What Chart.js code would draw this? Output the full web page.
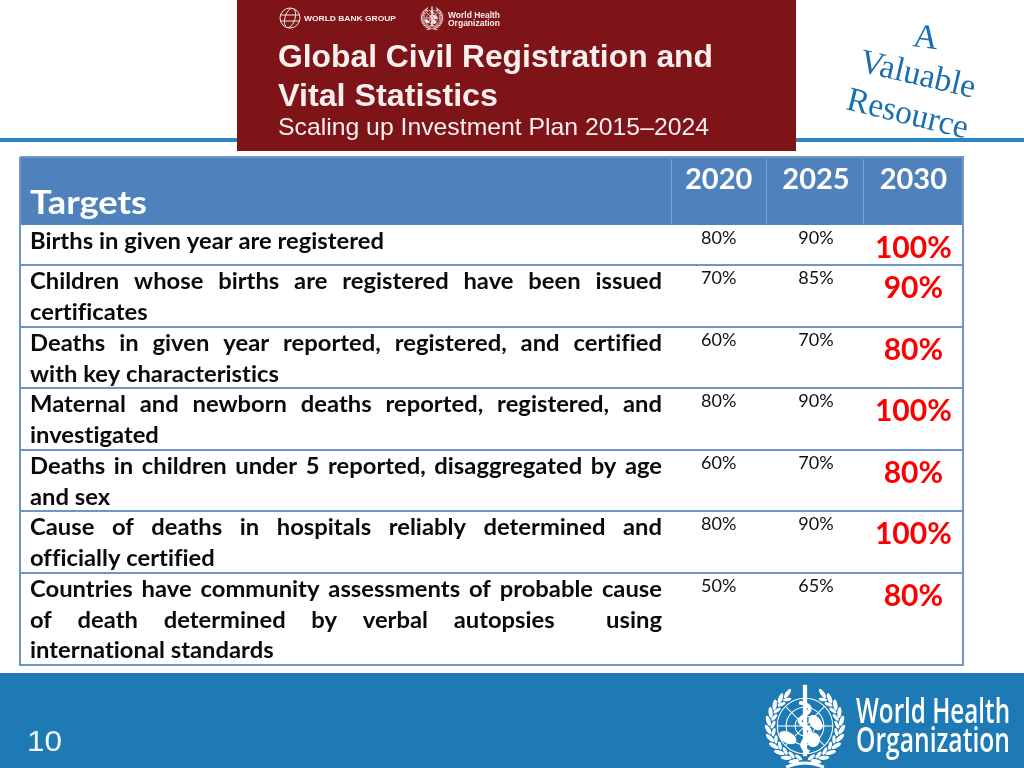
<!DOCTYPE html>
<html>
<head>
<meta charset="utf-8">
<title>Targets</title>
<script src="https://cdn.jsdelivr.net/npm/chart.js@4"></script>
<style>
  html, body { margin: 0; padding: 0; background: #fff; overflow: hidden; }
  canvas { display: block; }
</style>
</head>
<body>
<canvas id="targetsChart" width="1024" height="768"></canvas>
<script>
const years = ['2020', '2025', '2030'];
const target2020 = [80, 70, 60, 80, 60, 80, 50];
const target2025 = [90, 85, 70, 90, 70, 90, 65];
const target2030 = [100, 90, 80, 100, 80, 100, 80];

const rowLabels = [
    ['Births in given year are registered'],
    ['Children whose births are registered have been issued', 'certificates'],
    ['Deaths in given year reported, registered, and certified', 'with key characteristics'],
    ['Maternal and newborn deaths reported, registered, and', 'investigated'],
    ['Deaths in children under 5 reported, disaggregated by age', 'and sex'],
    ['Cause of deaths in hospitals reliably determined and', 'officially certified'],
    ['Countries have community assessments of probable cause', 'of death determined by verbal autopsies  using', 'international standards']
];

// table rows are not equal height, the y scale runs in table pixels
const rowHeights = [40, 62, 61, 62, 61, 62, 92];
const rowTops = rowHeights.map((_, i) => rowHeights.slice(0, i).reduce((a, b) => a + b, 0));

const BLUE = '#4f81bd';
const BAND = '#1e7ab5';
const TABLE_LEFT = 20;
const TABLE_RIGHT = 963;

function fitText(ctx, text, x, y, width) {
    const w = ctx.measureText(text).width;
    ctx.save();
    ctx.translate(x, y);
    ctx.scale(width / w, 1);
    ctx.textAlign = 'left';
    ctx.fillText(text, 0, 0);
    ctx.restore();
}

function drawLeaf(ctx, x, y, rx, ry, angle) {
    ctx.beginPath();
    ctx.ellipse(x, y, rx, ry, angle, 0, Math.PI * 2);
    ctx.fill();
}

// UN style emblem, globe with staff and wreath
function drawEmblem(ctx, cx, cy, r, color, withStaff) {
    ctx.save();
    ctx.strokeStyle = color;
    ctx.fillStyle = color;
    const globe = r * 0.66;
    ctx.lineWidth = Math.max(0.6, r / 40);
    [1, 0.68, 0.36].forEach(f => {
        ctx.beginPath();
        ctx.arc(cx, cy, globe * f, 0, Math.PI * 2);
        ctx.stroke();
    });
    for (let a = 0; a < 8; a++) {
        ctx.beginPath();
        ctx.moveTo(cx, cy);
        ctx.lineTo(cx + Math.cos(a * Math.PI / 4) * globe, cy + Math.sin(a * Math.PI / 4) * globe);
        ctx.stroke();
    }
    // land
    drawLeaf(ctx, cx - globe * 0.62, cy + globe * 0.42, globe * 0.34, globe * 0.2, 0.5);
    drawLeaf(ctx, cx + globe * 0.38, cy - globe * 0.12, globe * 0.32, globe * 0.2, 0.9);
    drawLeaf(ctx, cx + globe * 0.3, cy + globe * 0.5, globe * 0.24, globe * 0.26, 0.2);
    // wreath
    for (let side = -1; side <= 1; side += 2) {
        for (let i = 0; i < 11; i++) {
            const a = Math.PI / 2 + side * (0.3 + i * 0.235);
            const lx = cx + Math.cos(a) * r * 0.88;
            const ly = cy + Math.sin(a) * r * 0.88;
            drawLeaf(ctx, lx, ly, r * 0.13, r * 0.05, a + side * 1.1);
            const ix = cx + Math.cos(a - side * 0.1) * r * 0.76;
            const iy = cy + Math.sin(a - side * 0.1) * r * 0.76;
            drawLeaf(ctx, ix, iy, r * 0.1, r * 0.04, a + side * 1.9);
        }
    }
    ctx.lineWidth = r / 14;
    ctx.beginPath();
    ctx.moveTo(cx - r * 0.45, cy + r * 0.98);
    ctx.quadraticCurveTo(cx, cy + r * 0.78, cx + r * 0.45, cy + r * 0.98);
    ctx.stroke();
    if (withStaff) {
        ctx.lineWidth = r / 10;
        ctx.beginPath();
        ctx.moveTo(cx, cy - r * 0.98);
        ctx.lineTo(cx, cy + r * 0.72);
        ctx.stroke();
        ctx.lineWidth = r / 11;
        ctx.beginPath();
        ctx.moveTo(cx + r * 0.1, cy + r * 0.62);
        ctx.bezierCurveTo(cx - r * 0.4, cy + r * 0.4, cx + r * 0.4, cy + r * 0.2, cx, cy);
        ctx.bezierCurveTo(cx - r * 0.42, cy - r * 0.18, cx + r * 0.38, cy - r * 0.32, cx + r * 0.02, cy - r * 0.52);
        ctx.lineTo(cx - r * 0.14, cy - r * 0.56);
        ctx.stroke();
    }
    ctx.restore();
}

function drawBank(ctx, cx, cy, r) {
    ctx.save();
    ctx.strokeStyle = '#f3e6e6';
    ctx.lineWidth = 1;
    ctx.beginPath();
    ctx.arc(cx, cy, r, 0, Math.PI * 2);
    ctx.stroke();
    ctx.beginPath();
    ctx.ellipse(cx, cy, r * 0.5, r, 0.3, 0, Math.PI * 2);
    ctx.moveTo(cx - r, cy - r * 0.3);
    ctx.lineTo(cx + r, cy - r * 0.3);
    ctx.moveTo(cx - r, cy + r * 0.3);
    ctx.lineTo(cx + r, cy + r * 0.3);
    ctx.stroke();
    ctx.restore();
}

function drawJustified(ctx, line, x, y, totalWidth, squeeze, justify) {
    const words = line.split(' ');
    const natural = ctx.measureText(' ').width * squeeze;
    const widths = words.map(w => ctx.measureText(w).width * squeeze);
    const used = widths.reduce((a, b) => a + b, 0);
    const gap = justify ? (totalWidth - used) / (words.length - 1) : natural;
    let cx = x;
    words.forEach((w, i) => {
        if (w) fitText(ctx, w, cx, y, widths[i]);
        cx += widths[i] + gap;
    });
}

const slidePlugin = {
    id: 'slide',
    beforeDraw(chart) {
        const ctx = chart.ctx;
        const area = chart.chartArea;
        ctx.save();
        ctx.fillStyle = '#ffffff';
        ctx.fillRect(0, 0, 1024, 768);

        // top rule and footer band
        ctx.fillStyle = '#2b86c0';
        ctx.fillRect(0, 138, 1024, 4);
        ctx.fillStyle = BAND;
        ctx.fillRect(0, 673, 1024, 95);

        // report cover
        ctx.fillStyle = '#7f1418';
        ctx.fillRect(237, 0, 559, 151);
        ctx.fillStyle = '#f8efef';
        ctx.textBaseline = 'alphabetic';
        ctx.font = 'bold 31px "Liberation Sans"';
        fitText(ctx, 'Global Civil Registration and', 278, 67, 435);
        fitText(ctx, 'Vital Statistics', 278, 106, 220);
        ctx.font = '24px "Liberation Sans"';
        fitText(ctx, 'Scaling up Investment Plan 2015\u20132024', 278, 135, 431);
        ctx.font = 'bold 8px "Liberation Sans"';
        fitText(ctx, 'WORLD BANK GROUP', 304, 21, 92);
        ctx.font = 'bold 9px "Liberation Sans"';
        fitText(ctx, 'World Health', 448, 18, 52);
        fitText(ctx, 'Organization', 448, 26, 52);
        drawBank(ctx, 290, 18, 10);
        drawEmblem(ctx, 432, 18, 12, '#f3e6e6', true);

        // note next to the cover
        ctx.fillStyle = '#1b6fae';
        ctx.font = '34px "Liberation Serif"';
        const note = [['A', 912, 46, 25, 0.13], ['Valuable', 858, 71, 118, 0.23], ['Resource', 845, 109, 124, 0.24]];
        note.forEach(n => {
            ctx.save();
            ctx.translate(n[1], n[2]);
            ctx.rotate(n[4]);
            fitText(ctx, n[0], 0, 0, n[3]);
            ctx.restore();
        });

        // footer
        ctx.fillStyle = '#f2f7fb';
        ctx.font = '30px "Liberation Sans"';
        fitText(ctx, '10', 27, 751, 35);
        ctx.fillStyle = '#ffffff';
        ctx.font = '600 34px "Open Sans"';
        fitText(ctx, 'World Health', 856, 723, 154);
        fitText(ctx, 'Organization', 856, 752, 154);
        drawEmblem(ctx, 805, 726, 42, '#ffffff', true);

        // table header
        ctx.fillStyle = BLUE;
        ctx.fillRect(TABLE_LEFT, 157, TABLE_RIGHT - TABLE_LEFT, 68);
        ctx.strokeStyle = '#7ea3d0';
        ctx.lineWidth = 1;
        [671, 766, 863].forEach(x => {
            ctx.beginPath();
            ctx.moveTo(x + 0.5, 159);
            ctx.lineTo(x + 0.5, 224);
            ctx.stroke();
        });
        ctx.fillStyle = '#ffffff';
        ctx.font = 'bold 33px Lato';
        fitText(ctx, 'Targets', 30, 214, 117);

        // table body lines
        ctx.strokeStyle = '#7096c6';
        ctx.lineWidth = 2;
        ctx.beginPath();
        ctx.moveTo(TABLE_LEFT, 157);
        ctx.lineTo(TABLE_LEFT, area.bottom);
        ctx.lineTo(TABLE_RIGHT, area.bottom);
        ctx.lineTo(TABLE_RIGHT, 157);
        ctx.lineTo(TABLE_LEFT, 157);
        rowTops.slice(1).forEach(t => {
            const y = chart.scales.y.getPixelForValue(t);
            ctx.moveTo(TABLE_LEFT, y);
            ctx.lineTo(TABLE_RIGHT, y);
        });
        ctx.stroke();

        // target descriptions, small letter spacing keeps Lato from joining ti and fi
        ctx.fillStyle = '#0a0a0a';
        ctx.font = 'bold 23.5px Lato';
        ctx.letterSpacing = '0.01px';
        const squeeze = 354 / ctx.measureText(rowLabels[0][0]).width;
        rowLabels.forEach((lines, r) => {
            const top = chart.scales.y.getPixelForValue(rowTops[r]);
            lines.forEach((line, l) => {
                const justify = l < lines.length - 1;
                drawJustified(ctx, line, 30, top + 24 + l * 30.6, 632, squeeze, justify);
            });
        });
        ctx.letterSpacing = '0px';
        ctx.restore();
    },
    afterDatasetsDraw(chart) {
        const ctx = chart.ctx;
        ctx.save();
        ctx.textAlign = 'center';
        ctx.textBaseline = 'alphabetic';
        chart.data.datasets.forEach((ds, d) => {
            const meta = chart.getDatasetMeta(d);
            const last = d === chart.data.datasets.length - 1;
            ctx.font = last ? 'bold 30px Lato' : '18px Lato';
            ctx.fillStyle = last ? '#fa0000' : '#111111';
            meta.data.forEach((pt, i) => {
                ctx.fillText(ds.values[i] + '%', pt.x, pt.y + (last ? 33 : 19));
            });
        });
        ctx.restore();
    }
};

function column(year, values) {
    return {
        label: year,
        values: values,
        data: values.map((_, i) => ({ x: year, y: rowTops[i] })),
        showLine: false,
        pointRadius: 0
    };
}

new Chart(document.getElementById('targetsChart').getContext('2d'), {
    type: 'line',
    data: {
        labels: years,
        datasets: [
            column('2020', target2020),
            column('2025', target2025),
            column('2030', target2030)
        ]
    },
    options: {
        responsive: false,
        animation: false,
        events: [],
        layout: { padding: { left: 670, right: 62, top: 157, bottom: 103 } },
        plugins: { legend: { display: false }, tooltip: { enabled: false }, title: { display: false } },
        scales: {
            x: {
                type: 'category',
                position: 'top',
                offset: true,
                afterFit(scale) { scale.height = 68; },
                grid: { display: false, drawTicks: false },
                border: { display: false },
                ticks: {
                    color: '#ffffff',
                    padding: 28,
                    maxRotation: 0,
                    font: { family: 'Lato', size: 29, weight: 'bold' }
                }
            },
            y: {
                display: false,
                reverse: true,
                min: 0,
                max: rowHeights.reduce((a, b) => a + b, 0)
            }
        }
    },
    plugins: [slidePlugin]
});
</script>
</body>
</html>
